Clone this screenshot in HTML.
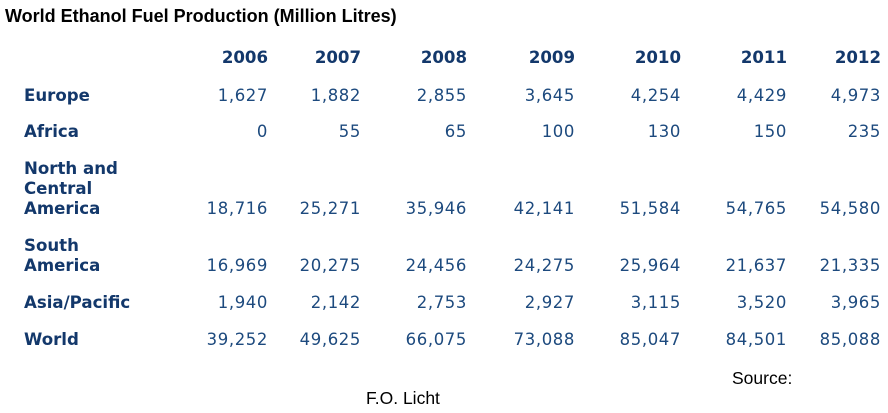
<!DOCTYPE html>
<html><head><meta charset="utf-8"><style>
body{margin:0;width:888px;height:413px;background:#fff;position:relative;overflow:hidden}
div{position:absolute;white-space:nowrap}
.t{left:5px;top:6px;font:bold 18px "Liberation Sans",sans-serif;color:#000;line-height:20px}
.h,.l{font:bold 16.6px "DejaVu Sans",sans-serif;color:#13386b;line-height:20px}
.n{font:16.5px "DejaVu Sans",sans-serif;color:#1d4a7e;line-height:20px;letter-spacing:0.6px}
.h,.n{text-align:right;width:100px}
.s{font:17.5px "Liberation Sans",sans-serif;color:#000;line-height:20px}
</style></head><body>
<div class="t">World Ethanol Fuel Production (Million Litres)</div>
<div id="tbl"></div>
<div class="s" style="left:732px;top:368px">Source:</div>
<div class="s" style="left:366px;top:388px">F.O. Licht</div>
<script>
const years=["2006","2007","2008","2009","2010","2011","2012"];
const regions=["Europe","Africa","North and<br>Central<br>America","South<br>America","Asia/Pacific","World"];
const europe=["1,627","1,882","2,855","3,645","4,254","4,429","4,973"];
const africa=["0","55","65","100","130","150","235"];
const nca=["18,716","25,271","35,946","42,141","51,584","54,765","54,580"];
const sa=["16,969","20,275","24,456","24,275","25,964","21,637","21,335"];
const asia=["1,940","2,142","2,753","2,927","3,115","3,520","3,965"];
const world=["39,252","49,625","66,075","73,088","85,047","84,501","85,088"];
const rows=[europe,africa,nca,sa,asia,world];
const rightX=[268,361,467,575,681,787,881];
const rowTop=[86,122,159,236,293,330];
const rowLines=[1,1,3,2,1,1];
const tbl=document.getElementById('tbl');
years.forEach((y,i)=>{const d=document.createElement('div');d.className='h';d.textContent=y;
d.style.left=(rightX[i]-100)+'px';d.style.top='48px';

tbl.appendChild(d);});
regions.forEach((r,j)=>{const d=document.createElement('div');d.className='l';d.innerHTML=r;
d.style.left='24px';d.style.top=rowTop[j]+'px';

tbl.appendChild(d);
const vt=rowTop[j]+(rowLines[j]-1)*20;
rows[j].forEach((v,i)=>{const c=document.createElement('div');c.className='n';c.textContent=v;
c.style.left=(rightX[i]-100)+'px';c.style.top=vt+'px';

tbl.appendChild(c);});});
</script>
</body></html>
